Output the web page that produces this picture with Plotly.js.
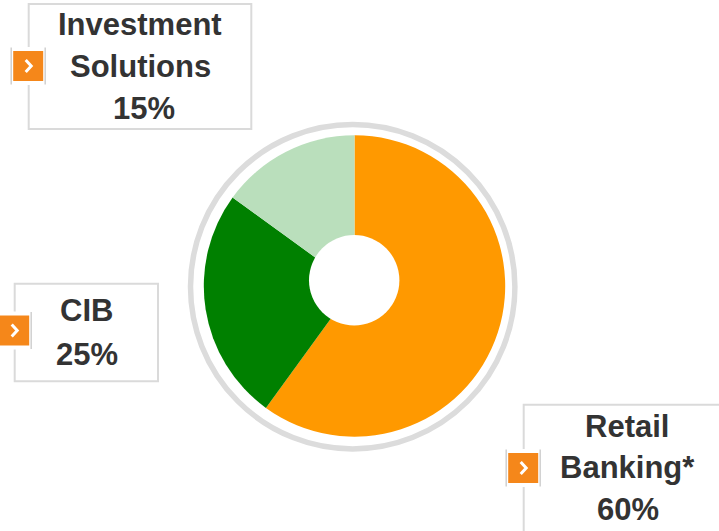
<!DOCTYPE html>
<html><head><meta charset="utf-8">
<script src="https://cdn.plot.ly/plotly-3.0.1.min.js"></script>
<style>html,body{margin:0;padding:0;background:#fff;overflow:hidden}#chart{width:719px;height:531px}</style>
</head><body><div id="chart"></div>
<script>
// ---- data ----
const categories = ['Retail Banking*', 'CIB', 'Investment Solutions'];
const shares = [60, 25, 15];
const sliceColors = ['#FF9900', '#008000', '#BADFBC'];

// ---- geometry (pixels) ----
const W = 719, H = 531;
const px = x => x / W;
const py = y => 1 - y / H;

const pieGeo = {cx: 354.5, cy: 286, r: 150.7};
const holeGeo = {cx: 354.2, cy: 280.2, r: 45.2};
const ringGeo = {cx: 352.7, cy: 286.7, r: 162.2, w: 5.5};

const boxes = [
  {l: 523.7, t: 404.7, r: 730.5, b: 560, tx: 627, base: [437.3, 478.5, 520.5], iconY: 468, valueShift: 1},
  {l: 14.7, t: 283.8, r: 158, b: 381.3, tx: 86.5, base: [321.7, 365], iconY: 330.5, valueShift: 0},
  {l: 28.7, t: 4, r: 251.3, b: 129, tx: 140, base: [35, 77.3, 119.5], iconY: 66, valueShift: 4}
];

const shapes = [];
const annotations = [];

// outer grey ring
shapes.push({type: 'circle', xref: 'paper', yref: 'paper', layer: 'below',
  x0: px(ringGeo.cx - ringGeo.r), x1: px(ringGeo.cx + ringGeo.r),
  y0: py(ringGeo.cy + ringGeo.r), y1: py(ringGeo.cy - ringGeo.r),
  line: {color: '#DCDCDC', width: ringGeo.w}, fillcolor: 'rgba(0,0,0,0)'});

// centre hole
shapes.push({type: 'circle', xref: 'paper', yref: 'paper', layer: 'above',
  x0: px(holeGeo.cx - holeGeo.r), x1: px(holeGeo.cx + holeGeo.r),
  y0: py(holeGeo.cy + holeGeo.r), y1: py(holeGeo.cy - holeGeo.r),
  line: {width: 0}, fillcolor: '#FFFFFF'});

const font = {family: 'Liberation Sans, Arial, sans-serif', size: 31, color: '#333333', weight: 700};

categories.forEach((cat, i) => {
  const b = boxes[i];
  // label box
  shapes.push({type: 'rect', xref: 'paper', yref: 'paper', layer: 'above',
    x0: px(b.l), x1: px(b.r), y0: py(b.b), y1: py(b.t),
    line: {color: '#DADADA', width: 2}, fillcolor: 'rgba(0,0,0,0)'});
  // icon
  const cx = b.l - 0.5, cy = b.iconY;
  shapes.push({type: 'rect', xref: 'paper', yref: 'paper', layer: 'above',
    x0: px(cx - 18.5), x1: px(cx + 18.5), y0: py(cy + 19), y1: py(cy - 19),
    line: {width: 0}, fillcolor: '#FFFFFF'});
  [-17, 17].forEach(dx => shapes.push({type: 'line', xref: 'paper', yref: 'paper', layer: 'above',
    x0: px(cx + dx), x1: px(cx + dx), y0: py(cy + 18.5), y1: py(cy - 18.5),
    line: {color: '#D0D0D0', width: 1.5}}));
  shapes.push({type: 'rect', xref: 'paper', yref: 'paper', layer: 'above',
    x0: px(cx - 15), x1: px(cx + 15), y0: py(cy + 15), y1: py(cy - 15),
    line: {width: 0}, fillcolor: '#F5871A'});
  shapes.push({type: 'path', xref: 'paper', yref: 'paper', layer: 'above',
    path: `M ${px(cx - 2.5)} ${py(cy - 6)} L ${px(cx + 3)} ${py(cy)} L ${px(cx - 2.5)} ${py(cy + 6)}`,
    line: {color: '#FFFFFF', width: 3}});
  // text lines
  const lines = cat.split(' ').concat([shares[i] + '%']);
  lines.forEach((t, k) => {
    const isValue = k === lines.length - 1;
    annotations.push({xref: 'paper', yref: 'paper', showarrow: false,
      x: px(b.tx + (isValue ? b.valueShift : 0)), y: py(b.base[k] - 11),
      xanchor: 'center', yanchor: 'middle', text: t, font: font});
  });
});

const trace = {
  type: 'pie', values: shares, labels: categories, sort: false,
  direction: 'clockwise', rotation: 0, hole: 0,
  marker: {colors: sliceColors, line: {width: 0}},
  textinfo: 'none', hoverinfo: 'label+percent', showlegend: false,
  domain: {x: [px(pieGeo.cx - pieGeo.r), px(pieGeo.cx + pieGeo.r)],
           y: [py(pieGeo.cy + pieGeo.r), py(pieGeo.cy - pieGeo.r)]}
};

const layout = {
  width: W, height: H, margin: {l: 0, r: 0, t: 0, b: 0},
  paper_bgcolor: '#FFFFFF', plot_bgcolor: '#FFFFFF', showlegend: false,
  font: {family: 'Liberation Sans, Arial, sans-serif'},
  shapes: shapes, annotations: annotations
};

Plotly.newPlot('chart', [trace], layout, {displayModeBar: false, staticPlot: true});
</script>
</body></html>
